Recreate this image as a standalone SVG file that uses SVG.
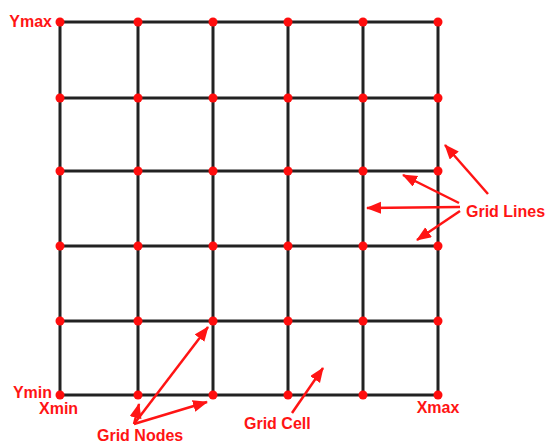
<svg xmlns="http://www.w3.org/2000/svg" width="546" height="443" viewBox="0 0 546 443">
<style>
.g{stroke:#222;stroke-width:3;fill:none;stroke-linecap:square}
.n{fill:#ff0d0d}
.t{font-family:"Liberation Sans",Arial,sans-serif;font-weight:bold;font-size:16px;fill:#ff1414}
.a{stroke:#ff1414;stroke-width:2.5;fill:none;marker-end:url(#ah)}
</style>
<defs>
<marker id="ah" markerUnits="userSpaceOnUse" markerWidth="16" markerHeight="14" refX="14" refY="6" orient="auto">
<path d="M0,0 L15,6 L0,12 Z" fill="#ff1414"/>
</marker>
</defs>
<rect width="546" height="443" fill="#fff"/>
<g id="grid">
<path class="g" d="M60,22H438M60,98H438M60,171H438M60,246H438M60,321H438M60,395H438"/>
<path class="g" d="M60,22V395M138,22V395M213,22V395M288,22V395M363,22V395M438,22V395"/>
</g>
<g id="nodes" class="n">
<circle cx="60" cy="22" r="4.5"/><circle cx="138" cy="22" r="4.5"/><circle cx="213" cy="22" r="4.5"/><circle cx="288" cy="22" r="4.5"/><circle cx="363" cy="22" r="4.5"/><circle cx="438" cy="22" r="4.5"/>
<circle cx="60" cy="98" r="4.5"/><circle cx="138" cy="98" r="4.5"/><circle cx="213" cy="98" r="4.5"/><circle cx="288" cy="98" r="4.5"/><circle cx="363" cy="98" r="4.5"/><circle cx="438" cy="98" r="4.5"/>
<circle cx="60" cy="171" r="4.5"/><circle cx="138" cy="171" r="4.5"/><circle cx="213" cy="171" r="4.5"/><circle cx="288" cy="171" r="4.5"/><circle cx="363" cy="171" r="4.5"/><circle cx="438" cy="171" r="4.5"/>
<circle cx="60" cy="246" r="4.5"/><circle cx="138" cy="246" r="4.5"/><circle cx="213" cy="246" r="4.5"/><circle cx="288" cy="246" r="4.5"/><circle cx="363" cy="246" r="4.5"/><circle cx="438" cy="246" r="4.5"/>
<circle cx="60" cy="321" r="4.5"/><circle cx="138" cy="321" r="4.5"/><circle cx="213" cy="321" r="4.5"/><circle cx="288" cy="321" r="4.5"/><circle cx="363" cy="321" r="4.5"/><circle cx="438" cy="321" r="4.5"/>
<circle cx="60" cy="395" r="4.5"/><circle cx="138" cy="395" r="4.5"/><circle cx="213" cy="395" r="4.5"/><circle cx="288" cy="395" r="4.5"/><circle cx="363" cy="395" r="4.5"/><circle cx="438" cy="395" r="4.5"/>
</g>
<g id="connectors">
<line class="a" x1="488" y1="194" x2="445" y2="145"/>
<line class="a" x1="459" y1="203" x2="403" y2="175"/>
<line class="a" x1="460" y1="207" x2="367" y2="208"/>
<line class="a" x1="460" y1="211" x2="417" y2="240"/>
<line class="a" x1="134" y1="424" x2="208" y2="327"/>
<line class="a" x1="134" y1="424" x2="207" y2="402"/>
<line class="a" x1="134" y1="424" x2="139" y2="404"/>
<line class="a" x1="292" y1="413" x2="323" y2="368"/>
</g>
<g id="labels" class="t">
<text x="52" y="27" text-anchor="end">Ymax</text>
<text x="52" y="398" text-anchor="end">Ymin</text>
<text x="39" y="414">Xmin</text>
<text x="438" y="413" text-anchor="middle">Xmax</text>
<text x="466" y="217">Grid Lines</text>
<text x="97" y="441">Grid Nodes</text>
<text x="244" y="429">Grid Cell</text>
</g>
</svg>
